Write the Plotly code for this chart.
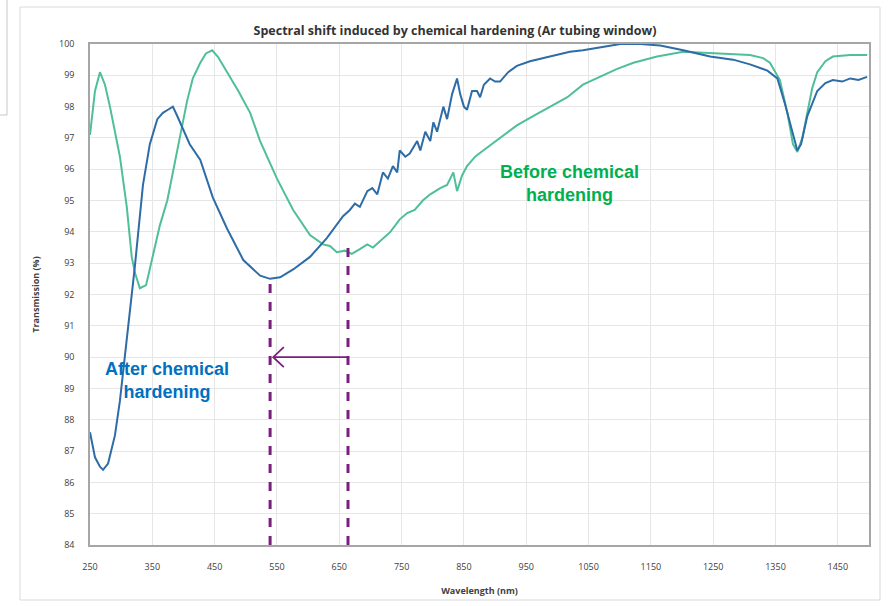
import plotly.graph_objects as go

# ---- data ----
after_x = [250, 258, 266, 271, 279, 290, 298, 309, 322, 335, 346, 358, 367, 375, 383, 390, 399, 410,
           427, 447, 470, 496, 523, 539, 555, 576, 603, 630, 656, 667, 675, 683, 695, 703, 711, 720,
           728, 736, 743, 747, 756, 763, 775, 780, 788, 796, 801, 807, 817, 823, 831, 839, 844, 850,
           855, 863, 871, 876, 882, 892, 900, 908, 921, 935, 956, 988, 1020, 1041, 1068, 1101, 1133,
           1165, 1202, 1245, 1282, 1309, 1337, 1353, 1365, 1377, 1385, 1391, 1401, 1417, 1430, 1442,
           1457, 1470, 1483, 1497]
after_y = [87.6, 86.8, 86.5, 86.4, 86.6, 87.5, 88.6, 90.5, 92.9, 95.5, 96.8, 97.6, 97.8, 97.9, 98.0,
           97.7, 97.3, 96.8, 96.3, 95.1, 94.1, 93.1, 92.6, 92.5, 92.55, 92.8, 93.2, 93.8, 94.5, 94.7,
           94.9, 94.8, 95.3, 95.4, 95.2, 95.9, 95.7, 96.1, 95.9, 96.6, 96.4, 96.5, 96.9, 96.6, 97.2,
           96.9, 97.5, 97.2, 98.0, 97.6, 98.4, 98.9, 98.4, 98.0, 97.9, 98.5, 98.5, 98.3, 98.7, 98.9,
           98.8, 98.8, 99.1, 99.3, 99.45, 99.6, 99.75, 99.8, 99.9, 100.0, 100.0, 99.95, 99.8, 99.6,
           99.5, 99.35, 99.15, 98.9, 98.1, 97.2, 96.6, 96.8, 97.7, 98.5, 98.75, 98.85, 98.8, 98.9,
           98.85, 98.95]

before_x = [250, 258, 266, 274, 282, 290, 298, 309, 317, 322, 330, 340, 351, 362, 374, 390, 406, 415,
            427, 436, 446, 455, 470, 488, 507, 523, 550, 576, 603, 624, 635, 646, 659, 670, 683, 695,
            704, 720, 732, 747, 759, 771, 784, 796, 812, 823, 833, 839, 847, 855, 868, 881, 908, 935,
            961, 988, 1016, 1041, 1068, 1095, 1122, 1160, 1202, 1256, 1309, 1330, 1341, 1357, 1369,
            1378, 1385, 1393, 1401, 1409, 1417, 1430, 1442, 1470, 1497]
before_y = [97.1, 98.5, 99.1, 98.7, 98.0, 97.2, 96.4, 94.8, 93.2, 92.7, 92.2, 92.3, 93.2, 94.2, 95.0,
            96.6, 98.2, 98.9, 99.4, 99.7, 99.8, 99.6, 99.1, 98.5, 97.8, 96.9, 95.7, 94.7, 93.9, 93.6,
            93.55, 93.35, 93.4, 93.3, 93.45, 93.6, 93.5, 93.8, 94.0, 94.4, 94.6, 94.7, 95.0, 95.2,
            95.4, 95.5, 95.9, 95.3, 95.8, 96.1, 96.4, 96.6, 97.0, 97.4, 97.7, 98.0, 98.3, 98.7, 98.95,
            99.2, 99.4, 99.6, 99.75, 99.7, 99.65, 99.55, 99.4, 98.85, 97.8, 96.8, 96.55, 97.0, 97.8,
            98.6, 99.1, 99.45, 99.6, 99.65, 99.65]

x_ticks = [250, 350, 450, 550, 650, 750, 850, 950, 1050, 1150, 1250, 1350, 1450]
y_ticks = list(range(84, 101))

after_min_x, after_min_y = 539, 92.55
before_min_x, before_min_y = 664, 93.6
arrow_y = 90.0

TITLE = "Spectral shift induced by chemical hardening (Ar tubing window)"
PURPLE = "#7A1F7D"

fig = go.Figure()
fig.add_trace(go.Scatter(x=before_x, y=before_y, mode="lines",
                         line=dict(color="#4FBF97", width=2), name="Before"))
fig.add_trace(go.Scatter(x=after_x, y=after_y, mode="lines",
                         line=dict(color="#2E6CA6", width=2), name="After"))

# dashed markers at the minima
for mx, my in [(after_min_x, after_min_y), (before_min_x, before_min_y)]:
    fig.add_shape(type="line", x0=mx, x1=mx, y0=84, y1=my, xref="x", yref="y",
                  line=dict(color=PURPLE, width=3, dash="dash"))

# arrow (shaft + open chevron head)
tip_x = after_min_x + 5
fig.add_shape(type="line", x0=before_min_x, x1=tip_x, y0=arrow_y, y1=arrow_y,
              line=dict(color=PURPLE, width=1.8))
fig.add_shape(type="path",
              path=f"M {tip_x + 17},{arrow_y + 0.32} L {tip_x},{arrow_y} L {tip_x + 17},{arrow_y - 0.32}",
              line=dict(color=PURPLE, width=1.8))

fig.add_annotation(x=1020, y=95.55, text="<b>Before chemical<br>hardening</b>", showarrow=False,
                   font=dict(family="Liberation Sans, Arial", size=18, color="#00B050"),
                   align="center")
fig.add_annotation(x=374, y=89.25, text="<b>After chemical<br>hardening</b>", showarrow=False,
                   font=dict(family="Liberation Sans, Arial", size=18, color="#0070C0"),
                   align="center")

# outer frame & small artifact box
fig.add_shape(type="rect", xref="paper", yref="paper",
              x0=(20 - 90) / 779, x1=(880 - 90) / 779, y0=(545 - 600) / 501, y1=(545 - 7) / 501,
              line=dict(color="#D9D9D9", width=1), layer="below")
fig.add_shape(type="rect", xref="paper", yref="paper",
              x0=(-5 - 90) / 779, x1=(7 - 90) / 779, y0=(545 - 115) / 501, y1=(545 + 5) / 501,
              line=dict(color="#C8C8C8", width=1), layer="below")

fig.update_layout(
    width=892, height=606,
    margin=dict(l=90, r=23, t=44, b=61),
    paper_bgcolor="white", plot_bgcolor="white",
    showlegend=False,
    title=dict(text="<b>" + TITLE + "</b>", x=(455) / 892, xanchor="center",
               y=1 - 31 / 606, yanchor="middle",
               font=dict(family="Open Sans", size=12.5, color="#333333")),
    font=dict(family="Open Sans", color="#404040"),
)
fig.update_xaxes(range=[250, 1500], tickvals=x_ticks, ticktext=[str(v) for v in x_ticks],
                 showgrid=True, gridcolor="#E6E6E6", gridwidth=1,
                 showline=True, linecolor="#A6A6A6", linewidth=1.5, mirror=True,
                 ticks="", ticklabelstandoff=12, tickfont=dict(size=9, color="#404040"),
                 title=dict(text="<b>Wavelength (nm)</b>", font=dict(size=9, color="#404040"), standoff=16),
                 zeroline=False)
fig.update_yaxes(range=[84, 100], tickvals=y_ticks, ticktext=[str(v) for v in y_ticks],
                 showgrid=True, gridcolor="#E6E6E6", gridwidth=1,
                 showline=True, linecolor="#A6A6A6", linewidth=1.5, mirror=True,
                 ticks="", ticklabelstandoff=12, tickfont=dict(size=9, color="#404040"),
                 title=dict(text="<b>Transmission (%)</b>", font=dict(size=9, color="#404040"), standoff=18),
                 zeroline=False)

fig.write_html("out.html")
